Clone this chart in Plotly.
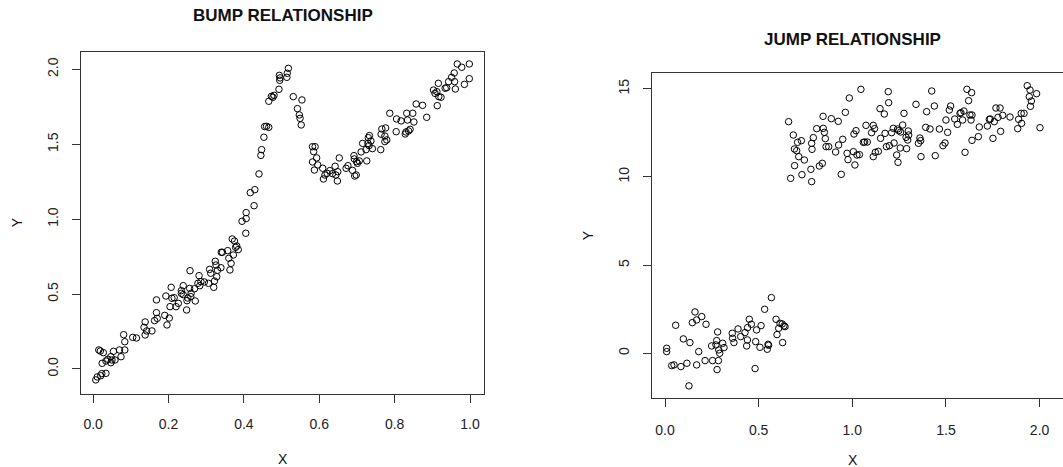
import plotly.graph_objects as go

# ---------------- BUMP RELATIONSHIP data ----------------
bump_x = [0.007, 0.011, 0.020, 0.023, 0.034, 0.015, 0.019, 0.024, 0.027, 0.034,
          0.039, 0.047, 0.047, 0.050, 0.054, 0.058, 0.070, 0.074, 0.081, 0.084,
          0.084, 0.105, 0.115, 0.135, 0.138, 0.138, 0.142, 0.156, 0.163, 0.168,
          0.168, 0.170, 0.193, 0.190, 0.196, 0.202, 0.207, 0.204, 0.209, 0.215,
          0.220, 0.226, 0.234, 0.234, 0.239, 0.239, 0.248, 0.249, 0.251, 0.257,
          0.256, 0.259, 0.260, 0.269, 0.271, 0.278, 0.281, 0.283, 0.286, 0.295,
          0.306, 0.309, 0.312, 0.320, 0.322, 0.324, 0.326, 0.328, 0.330, 0.339,
          0.340, 0.343, 0.357, 0.360, 0.363, 0.366, 0.369, 0.375, 0.372, 0.378,
          0.381, 0.385, 0.395, 0.405, 0.406, 0.406, 0.417, 0.427, 0.429, 0.440,
          0.445, 0.447, 0.453, 0.455, 0.460, 0.466, 0.466, 0.473, 0.477, 0.480,
          0.493, 0.494, 0.495, 0.496, 0.514, 0.515, 0.518, 0.531, 0.542, 0.547,
          0.549, 0.552, 0.554, 0.582, 0.589, 0.585, 0.582, 0.587, 0.593, 0.596,
          0.609, 0.611, 0.615, 0.621, 0.628, 0.635, 0.642, 0.644, 0.648, 0.649,
          0.653, 0.671, 0.676, 0.688, 0.692, 0.693, 0.694, 0.698, 0.699, 0.701,
          0.706, 0.711, 0.715, 0.724, 0.726, 0.729, 0.730, 0.732, 0.733, 0.737,
          0.741, 0.763, 0.764, 0.766, 0.774, 0.774, 0.776, 0.779, 0.787, 0.804,
          0.805, 0.817, 0.828, 0.830, 0.832, 0.834, 0.837, 0.841, 0.848, 0.851,
          0.857, 0.874, 0.885, 0.903, 0.907, 0.912, 0.913, 0.916, 0.917, 0.923,
          0.934, 0.938, 0.943, 0.951, 0.958, 0.959, 0.961, 0.966, 0.978, 0.985,
          0.998, 0.998]
bump_y = [-0.073, -0.053, -0.045, -0.031, -0.029, 0.127, 0.120, 0.038, 0.109, 0.053,
          0.065, 0.082, 0.042, 0.060, 0.118, 0.060, 0.127, 0.082, 0.229, 0.182,
          0.127, 0.211, 0.207, 0.278, 0.314, 0.227, 0.254, 0.254, 0.323, 0.376,
          0.461, 0.338, 0.487, 0.358, 0.294, 0.340, 0.545, 0.416, 0.472, 0.476,
          0.416, 0.438, 0.523, 0.505, 0.556, 0.496, 0.394, 0.456, 0.474, 0.656,
          0.538, 0.483, 0.505, 0.536, 0.454, 0.572, 0.623, 0.556, 0.583, 0.581,
          0.572, 0.665, 0.639, 0.545, 0.587, 0.719, 0.694, 0.616, 0.659, 0.676,
          0.779, 0.779, 0.790, 0.739, 0.661, 0.705, 0.868, 0.854, 0.761, 0.812,
          0.821, 0.797, 0.986, 0.906, 1.004, 1.044, 1.177, 1.090, 1.197, 1.302,
          1.426, 1.464, 1.547, 1.618, 1.620, 1.613, 1.787, 1.820, 1.814, 1.827,
          1.867, 1.960, 1.927, 1.943, 1.947, 1.974, 2.007, 1.818, 1.738, 1.696,
          1.673, 1.629, 1.796, 1.484, 1.484, 1.451, 1.382, 1.328, 1.409, 1.362,
          1.340, 1.268, 1.295, 1.306, 1.324, 1.304, 1.353, 1.295, 1.255, 1.317,
          1.409, 1.340, 1.357, 1.326, 1.424, 1.402, 1.288, 1.295, 1.384, 1.373,
          1.389, 1.449, 1.506, 1.464, 1.389, 1.506, 1.544, 1.491, 1.558, 1.522,
          1.471, 1.464, 1.567, 1.602, 1.518, 1.555, 1.609, 1.529, 1.707, 1.584,
          1.669, 1.656, 1.569, 1.582, 1.707, 1.662, 1.589, 1.600, 1.707, 1.649,
          1.769, 1.760, 1.680, 1.862, 1.840, 1.851, 1.758, 1.907, 1.818, 1.814,
          1.874, 1.878, 1.918, 1.947, 1.976, 1.918, 1.869, 2.036, 2.014, 1.900,
          2.036, 1.938]

# ---------------- JUMP RELATIONSHIP data ----------------
jump_x = [0.009, 0.009, 0.036, 0.048, 0.057, 0.085, 0.098, 0.117, 0.128, 0.133,
          0.146, 0.160, 0.169, 0.169, 0.180, 0.196, 0.214, 0.219, 0.249, 0.254,
          0.272, 0.276, 0.278, 0.281, 0.285, 0.287, 0.292, 0.308, 0.315, 0.359,
          0.361, 0.368, 0.390, 0.404, 0.427, 0.436, 0.440, 0.441, 0.450, 0.461,
          0.484, 0.489, 0.507, 0.513, 0.532, 0.546, 0.550, 0.553, 0.568, 0.593,
          0.598, 0.607, 0.614, 0.626, 0.628, 0.635, 0.641, 0.481,
          0.660, 0.671, 0.685, 0.691, 0.692, 0.703, 0.708, 0.714, 0.728, 0.731,
          0.744, 0.779, 0.783, 0.783, 0.785, 0.792, 0.810, 0.824, 0.840, 0.844,
          0.845, 0.851, 0.856, 0.860, 0.874, 0.888, 0.911, 0.925, 0.927, 0.941,
          0.949, 0.963, 0.972, 0.977, 0.984, 1.006, 1.009, 1.014, 1.020, 1.025,
          1.038, 1.046, 1.059, 1.066, 1.073, 1.080, 1.103, 1.112, 1.112, 1.119,
          1.123, 1.139, 1.148, 1.151, 1.171, 1.175, 1.182, 1.192, 1.194, 1.198,
          1.210, 1.219, 1.223, 1.237, 1.242, 1.244, 1.248, 1.256, 1.258, 1.269,
          1.276, 1.287, 1.290, 1.296, 1.299, 1.301, 1.340, 1.353, 1.361, 1.365,
          1.367, 1.392, 1.397, 1.415, 1.424, 1.438, 1.443, 1.465, 1.484, 1.495,
          1.500, 1.509, 1.518, 1.525, 1.547, 1.561, 1.575, 1.580, 1.589, 1.596,
          1.602, 1.612, 1.621, 1.628, 1.634, 1.637, 1.639, 1.639, 1.673, 1.678,
          1.721, 1.732, 1.737, 1.751, 1.758, 1.767, 1.778, 1.789, 1.792, 1.803,
          1.842, 1.883, 1.888, 1.902, 1.904, 1.917, 1.934, 1.945, 1.949, 1.951,
          1.956, 1.984, 2.002]
jump_y = [0.283, 0.094, -0.699, -0.661, 1.587, -0.756, 0.813, -0.567, -1.852, 0.605,
          1.738, 2.343, 1.890, -0.661, 0.094, 2.079, -0.416, 1.644, 0.416, -0.416,
          0.472, 0.718, -0.926, 1.209, -0.416, 0.189, 0.000, 0.567, 0.321, 1.134,
          0.850, 0.605, 1.379, 0.945, 1.172, 0.416, 0.756, 1.455, 1.927, 1.644,
          0.661, 1.323, 0.340, 1.568, 2.494, 0.227, 0.510, 0.454, 3.156, 1.927,
          1.058, 1.417, 1.701, 1.663, 0.605, 1.550, 1.512, -0.869,
          13.133, 9.921, 12.377, 11.584, 10.639, 11.489, 11.962, 11.149, 12.056, 10.128,
          10.960, 10.431, 9.732, 11.905, 11.565, 12.226, 12.736, 10.620, 10.771, 13.435,
          12.755, 12.528, 12.169, 11.716, 11.716, 13.303, 11.413, 13.152, 11.810, 10.147,
          12.132, 13.662, 11.338, 10.979, 14.475, 11.432, 12.434, 10.677, 12.623, 11.243,
          11.262, 14.966, 11.962, 11.980, 12.925, 11.980, 12.509, 12.925, 11.149, 12.736,
          11.395, 11.451, 13.870, 12.188, 13.568, 12.472, 11.716, 14.834, 14.210, 11.772,
          12.509, 12.755, 11.924, 11.243, 12.717, 10.828, 12.623, 11.640, 12.547, 12.944,
          13.605, 12.245, 11.603, 12.094, 12.604, 12.377, 14.116, 11.905, 12.207, 12.056,
          11.149, 12.812, 13.700, 12.717, 14.872, 14.021, 11.206, 12.717, 11.772, 11.924,
          13.228, 12.528, 13.794, 14.021, 13.284, 12.982, 13.605, 13.643, 13.228, 13.738,
          11.395, 14.966, 14.323, 13.511, 13.228, 14.777, 13.511, 12.075, 12.283, 12.831,
          12.887, 13.265, 13.284, 12.188, 13.133, 13.908, 13.379, 13.908, 12.585, 13.492,
          13.398, 12.736, 13.265, 13.605, 13.039, 13.605, 15.174, 14.550, 14.928, 14.002,
          14.304, 14.720, 12.793]

bump_xticks = [0.0, 0.2, 0.4, 0.6, 0.8, 1.0]
bump_xlabels = ["0.0", "0.2", "0.4", "0.6", "0.8", "1.0"]
bump_yticks = [0.0, 0.5, 1.0, 1.5, 2.0]
bump_ylabels = ["0.0", "0.5", "1.0", "1.5", "2.0"]
jump_xticks = [0.0, 0.5, 1.0, 1.5, 2.0]
jump_xlabels = ["0.0", "0.5", "1.0", "1.5", "2.0"]
jump_yticks = [0, 5, 10, 15]
jump_ylabels = ["0", "5", "10", "15"]

W, H = 1063, 467
FONT = "Liberation Sans, Arial, sans-serif"
LINE = "#333333"
marker = dict(symbol="circle-open", size=6.5, color="black", line=dict(width=1, color="black"))

fig = go.Figure()
fig.add_trace(go.Scatter(x=bump_x, y=bump_y, mode="markers", marker=marker,
                         xaxis="x", yaxis="y", showlegend=False, hoverinfo="skip"))
fig.add_trace(go.Scatter(x=jump_x, y=jump_y, mode="markers", marker=marker,
                         xaxis="x2", yaxis="y2", showlegend=False, hoverinfo="skip"))

def px(v):
    return v / W

def py(v):
    return 1 - v / H

axis_common = dict(showgrid=False, zeroline=False, showline=True, linecolor=LINE,
                   linewidth=1, ticks="outside", ticklen=8, tickwidth=1, tickcolor=LINE,
                   tickfont=dict(family=FONT, size=14, color="#222222"))

fig.update_layout(
    width=W, height=H,
    margin=dict(l=0, r=0, t=0, b=0),
    paper_bgcolor="white", plot_bgcolor="white",
    font=dict(family=FONT, color="#111111"),
    xaxis=dict(domain=[px(80.7), px(484)], range=[-0.033, 1.037], anchor="y",
               tickvals=bump_xticks, ticktext=bump_xlabels, mirror=True,
               ticklabelstandoff=9, **axis_common),
    yaxis=dict(domain=[py(394), py(51.7)], range=[-0.167, 2.118], anchor="x",
               tickvals=bump_yticks, ticktext=bump_ylabels, mirror=True, tickangle=-90,
               ticklabelstandoff=8, **axis_common),
    xaxis2=dict(domain=[px(651.7), 1.0], range=[-0.071, 2.125], anchor="y2",
                tickvals=jump_xticks, ticktext=jump_xlabels, mirror=True,
                ticklabelstandoff=11, **axis_common),
    yaxis2=dict(domain=[py(397.7), py(72.7)], range=[-2.52, 15.91], anchor="x2",
                tickvals=jump_yticks, ticktext=jump_ylabels, mirror=False, tickangle=-90,
                ticklabelstandoff=8, **axis_common),
)

def ann(text, x, y, size=14, bold=False, angle=0):
    t = f"<b>{text}</b>" if bold else text
    fig.add_annotation(text=t, x=px(x), y=py(y), xref="paper", yref="paper",
                       xanchor="center", yanchor="middle", showarrow=False,
                       textangle=angle, font=dict(family=FONT, size=size, color="#111111"))

ann("BUMP RELATIONSHIP", 282.5, 15.7, size=17, bold=True)
ann("X", 282.5, 459)
ann("Y", 17.3, 222, angle=-90)
ann("JUMP RELATIONSHIP", 852.3, 39.3, size=17, bold=True)
ann("X", 852.7, 460)
ann("Y", 588.3, 235, angle=-90)

fig.write_html("out.html", config={"displayModeBar": False},
               post_script="document.body.style.margin='0';document.body.style.overflow='hidden';")
